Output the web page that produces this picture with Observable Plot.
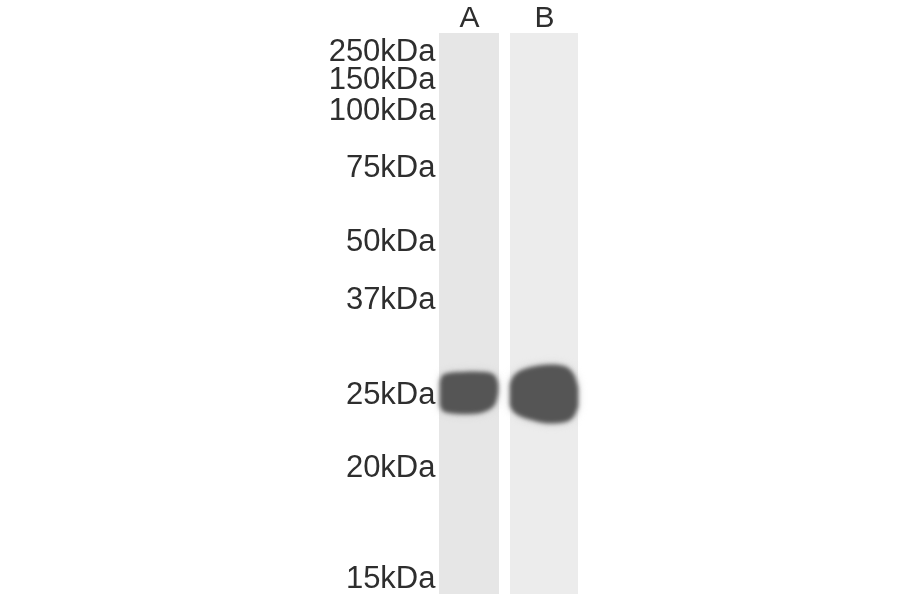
<!DOCTYPE html>
<html><head><meta charset="utf-8">
<script src="https://cdn.jsdelivr.net/npm/d3@7"></script>
<script src="https://cdn.jsdelivr.net/npm/@observablehq/plot@0.6"></script>
<style>html,body{margin:0;padding:0;background:#fff}svg{display:block}</style>
</head><body><div id="chart"></div>
<script>
const markerLabels = ["250kDa","150kDa","100kDa","75kDa","50kDa","37kDa","25kDa","20kDa","15kDa"];
const markerMigration = [51,79,110,167,241,299,394,467,578];
const laneNames = ["A","B"];
const laneStart = [439,510];
const laneEnd = [499,578];
const laneTop = [33,33];
const laneBottom = [594,594];
const laneTone = ["#e6e6e6","#ececec"];
const laneCenter = [469,544];

const bandAx = [440,443,450,465,480,490,495,498];
const bandAtop = [382,375,373,372,372,373,376,384];
const bandAbottom = [405,411,413,414,413,409,404,392];
const bandBx = [510,513,520,532,545,558,568,574,578];
const bandBtop = [385,377,371,367,365,365,368,375,388];
const bandBbottom = [405,411,416,420,423,423,421,416,406];

const bandA = bandAx.map((x,i)=>({x,y1:bandAtop[i],y2:bandAbottom[i]}));
const bandB = bandBx.map((x,i)=>({x,y1:bandBtop[i],y2:bandBbottom[i]}));
const lanes = laneNames.map((name,i)=>({name,x1:laneStart[i],x2:laneEnd[i],y1:laneTop[i],y2:laneBottom[i],tone:laneTone[i],c:laneCenter[i]}));
const markers = markerLabels.map((label,i)=>({label,y:markerMigration[i]}));

const plot = Plot.plot({
  width:900,height:594,margin:0,
  x:{domain:[0,900],range:[0,900],axis:null},
  y:{domain:[0,594],range:[0,594],axis:null},
  style:{background:"#fff"},
  marks:[
    Plot.rect(lanes,{x1:"x1",x2:"x2",y1:"y1",y2:"y2",fill:"tone",imageFilter:"blur(0.7px)"}),
    Plot.areaY(bandA,{x:"x",y1:"y1",y2:"y2",fill:"#c4c4c4",curve:"catmull-rom",imageFilter:"blur(4px)"}),
    Plot.areaY(bandB,{x:"x",y1:"y1",y2:"y2",fill:"#c4c4c4",curve:"catmull-rom",imageFilter:"blur(4px)"}),
    Plot.areaY(bandA,{x:"x",y1:"y1",y2:"y2",fill:"#555555",curve:"catmull-rom",imageFilter:"blur(2.2px)"}),
    Plot.areaY(bandB,{x:"x",y1:"y1",y2:"y2",fill:"#555555",curve:"catmull-rom",imageFilter:"blur(2.2px)"}),
    Plot.text(markers,{x:()=>435,y:"y",text:"label",textAnchor:"end",fontFamily:"Liberation Sans",fontSize:31,fill:"#2e2e2e",imageFilter:"blur(0.6px)"}),
    Plot.text(lanes,{x:"c",y:()=>17,text:"name",fontFamily:"Liberation Sans",fontSize:30,fill:"#2e2e2e",imageFilter:"blur(0.6px)"})
  ]
});
document.getElementById("chart").append(plot);
</script></body></html>
